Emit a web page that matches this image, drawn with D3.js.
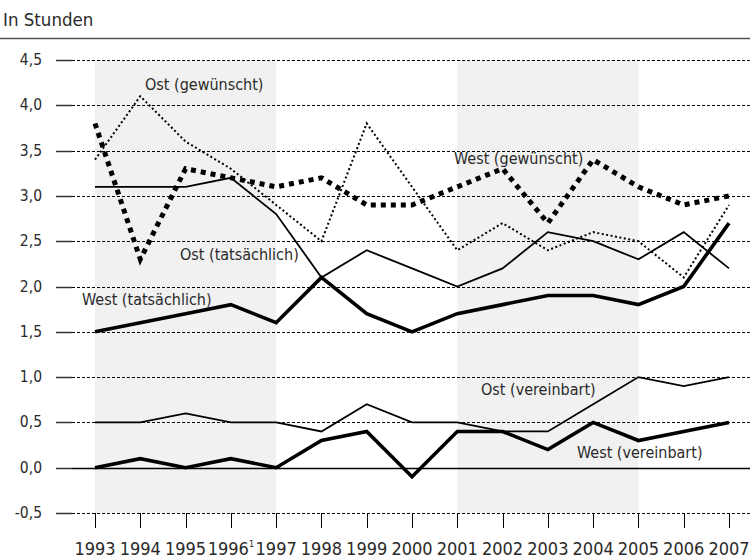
<!DOCTYPE html>
<html>
<head>
<meta charset="utf-8">
<script src="https://cdn.jsdelivr.net/npm/d3@7"></script>
<style>
  body { margin: 0; background: #fff; }
  text { font-family: "DejaVu Sans Condensed", "Liberation Sans Narrow", sans-serif; fill: #2a2a2a; }
</style>
</head>
<body>
<script>
var years = [1993,1994,1995,1996,1997,1998,1999,2000,2001,2002,2003,2004,2005,2006,2007];

var ostGewuenscht   = [3.4,4.1,3.6,3.3,2.9,2.5,3.8,3.1,2.4,2.7,2.4,2.6,2.5,2.1,2.9];
var westGewuenscht  = [3.8,2.3,3.3,3.2,3.1,3.2,2.9,2.9,3.1,3.3,2.7,3.4,3.1,2.9,3.0];
var ostTatsaechlich = [3.1,3.1,3.1,3.2,2.8,2.1,2.4,2.2,2.0,2.2,2.6,2.5,2.3,2.6,2.2];
var westTatsaechlich= [1.5,1.6,1.7,1.8,1.6,2.1,1.7,1.5,1.7,1.8,1.9,1.9,1.8,2.0,2.7];
var ostVereinbart   = [0.5,0.5,0.6,0.5,0.5,0.4,0.7,0.5,0.5,0.4,0.4,0.7,1.0,0.9,1.0];
var westVereinbart  = [0.0,0.1,0.0,0.1,0.0,0.3,0.4,-0.1,0.4,0.4,0.2,0.5,0.3,0.4,0.5];

var yTicks = [-0.5,0,0.5,1,1.5,2,2.5,3,3.5,4,4.5];
var bands = [[1993,1997],[2001,2005]];

var width = 750, height = 558;

var svg = d3.select("body").append("svg")
    .attr("width", width)
    .attr("height", height);

var x = d3.scaleLinear().domain([1993,2007]).range([95,729]);
var y = d3.scaleLinear().domain([-0.5,4.5]).range([513,60]);

// header
svg.append("text")
   .attr("x", 3).attr("y", 26)
   .style("font-size", "18.5px")
   .text("In Stunden");
svg.append("line")
   .attr("x1", 0).attr("x2", width)
   .attr("y1", 38.5).attr("y2", 38.5)
   .attr("stroke", "#555").attr("stroke-width", 1.5);

// grey bands
svg.selectAll("rect.band")
   .data(bands)
   .enter()
   .append("rect")
   .attr("class", "band")
   .attr("x", function(d){ return x(d[0]); })
   .attr("width", function(d){ return x(d[1]) - x(d[0]); })
   .attr("y", y(4.5))
   .attr("height", y(-0.5) - y(4.5))
   .attr("fill", "#f1f1f1");

// grid lines
var grid = svg.append("g");
grid.selectAll("line.grid")
    .data(yTicks)
    .enter()
    .append("line")
    .attr("x1", 72).attr("x2", width)
    .attr("y1", function(d){ return Math.round(y(d)) + 0.5; })
    .attr("y2", function(d){ return Math.round(y(d)) + 0.5; })
    .attr("stroke", "#000")
    .attr("stroke-width", function(d){ return d === 0 ? 1.5 : 1; })
    .attr("stroke-dasharray", function(d){ return d === 0 ? null : "3,2"; });

grid.selectAll("line.tick")
    .data(yTicks)
    .enter()
    .append("line")
    .attr("x1", 56).attr("x2", 72)
    .attr("y1", function(d){ return Math.round(y(d)) + 0.5; })
    .attr("y2", function(d){ return Math.round(y(d)) + 0.5; })
    .attr("stroke", "#333")
    .attr("stroke-width", 1.5);

grid.selectAll("text")
    .data(yTicks)
    .enter()
    .append("text")
    .attr("x", 42)
    .attr("y", function(d){ return y(d) + 5; })
    .attr("text-anchor", "end")
    .style("font-size", "15.5px")
    .text(function(d){ return d3.format(".1f")(d).replace(".", ",").replace("\u2212", "-"); });

// bottom ticks
var xAxis = svg.append("g");
xAxis.selectAll("line")
     .data(years)
     .enter()
     .append("line")
     .attr("x1", function(d){ return Math.round(x(d)) + 0.5; })
     .attr("x2", function(d){ return Math.round(x(d)) + 0.5; })
     .attr("y1", y(-0.5)).attr("y2", y(-0.5) + 15)
     .attr("stroke", "#000").attr("stroke-width", 1);

var yl = xAxis.selectAll("text")
     .data(years)
     .enter()
     .append("text")
     .attr("x", function(d){ return x(d); })
     .attr("y", 555)
     .attr("text-anchor", "middle")
     .style("font-size", "18px");
yl.append("tspan").text(function(d){ return d; });
yl.filter(function(d){ return d === 1996; })
  .append("tspan")
  .attr("dy", -8)
  .style("font-size", "9px")
  .text("1");

// lines
var series = [
  {name: "Ost (vereinbart)",   values: ostVereinbart,    w: 1.8, dash: null},
  {name: "West (vereinbart)",  values: westVereinbart,   w: 3.6, dash: null},
  {name: "Ost (tatsächlich)",  values: ostTatsaechlich,  w: 1.8, dash: null},
  {name: "West (tatsächlich)", values: westTatsaechlich, w: 3.6, dash: null},
  {name: "Ost (gewünscht)",    values: ostGewuenscht,    w: 2,   dash: "2,2.5"},
  {name: "West (gewünscht)",   values: westGewuenscht,   w: 5,   dash: "5,5"}
];

var line = d3.line()
  .x(function(d,i){ return x(years[i]); })
  .y(function(d){ return y(d); });

svg.selectAll("path.series")
   .data(series)
   .enter()
   .append("path")
   .attr("class", "series")
   .attr("d", function(d){ return line(d.values); })
   .attr("fill", "none")
   .attr("stroke", "#000")
   .attr("stroke-width", function(d){ return d.w; })
   .attr("stroke-dasharray", function(d){ return d.dash; })
   .attr("stroke-linejoin", "miter");

// labels
var labelPos = {
  "Ost (gewünscht)":    [145, 90],
  "West (gewünscht)":   [454, 164],
  "Ost (tatsächlich)":  [180, 260],
  "West (tatsächlich)": [82, 305],
  "Ost (vereinbart)":   [481, 395],
  "West (vereinbart)":  [577, 458]
};

svg.selectAll("text.label")
   .data(series)
   .enter()
   .append("text")
   .attr("class", "label")
   .attr("x", function(d){ return labelPos[d.name][0]; })
   .attr("y", function(d){ return labelPos[d.name][1]; })
   .style("font-size", "16px")
   .text(function(d){ return d.name; });
</script>
</body>
</html>
